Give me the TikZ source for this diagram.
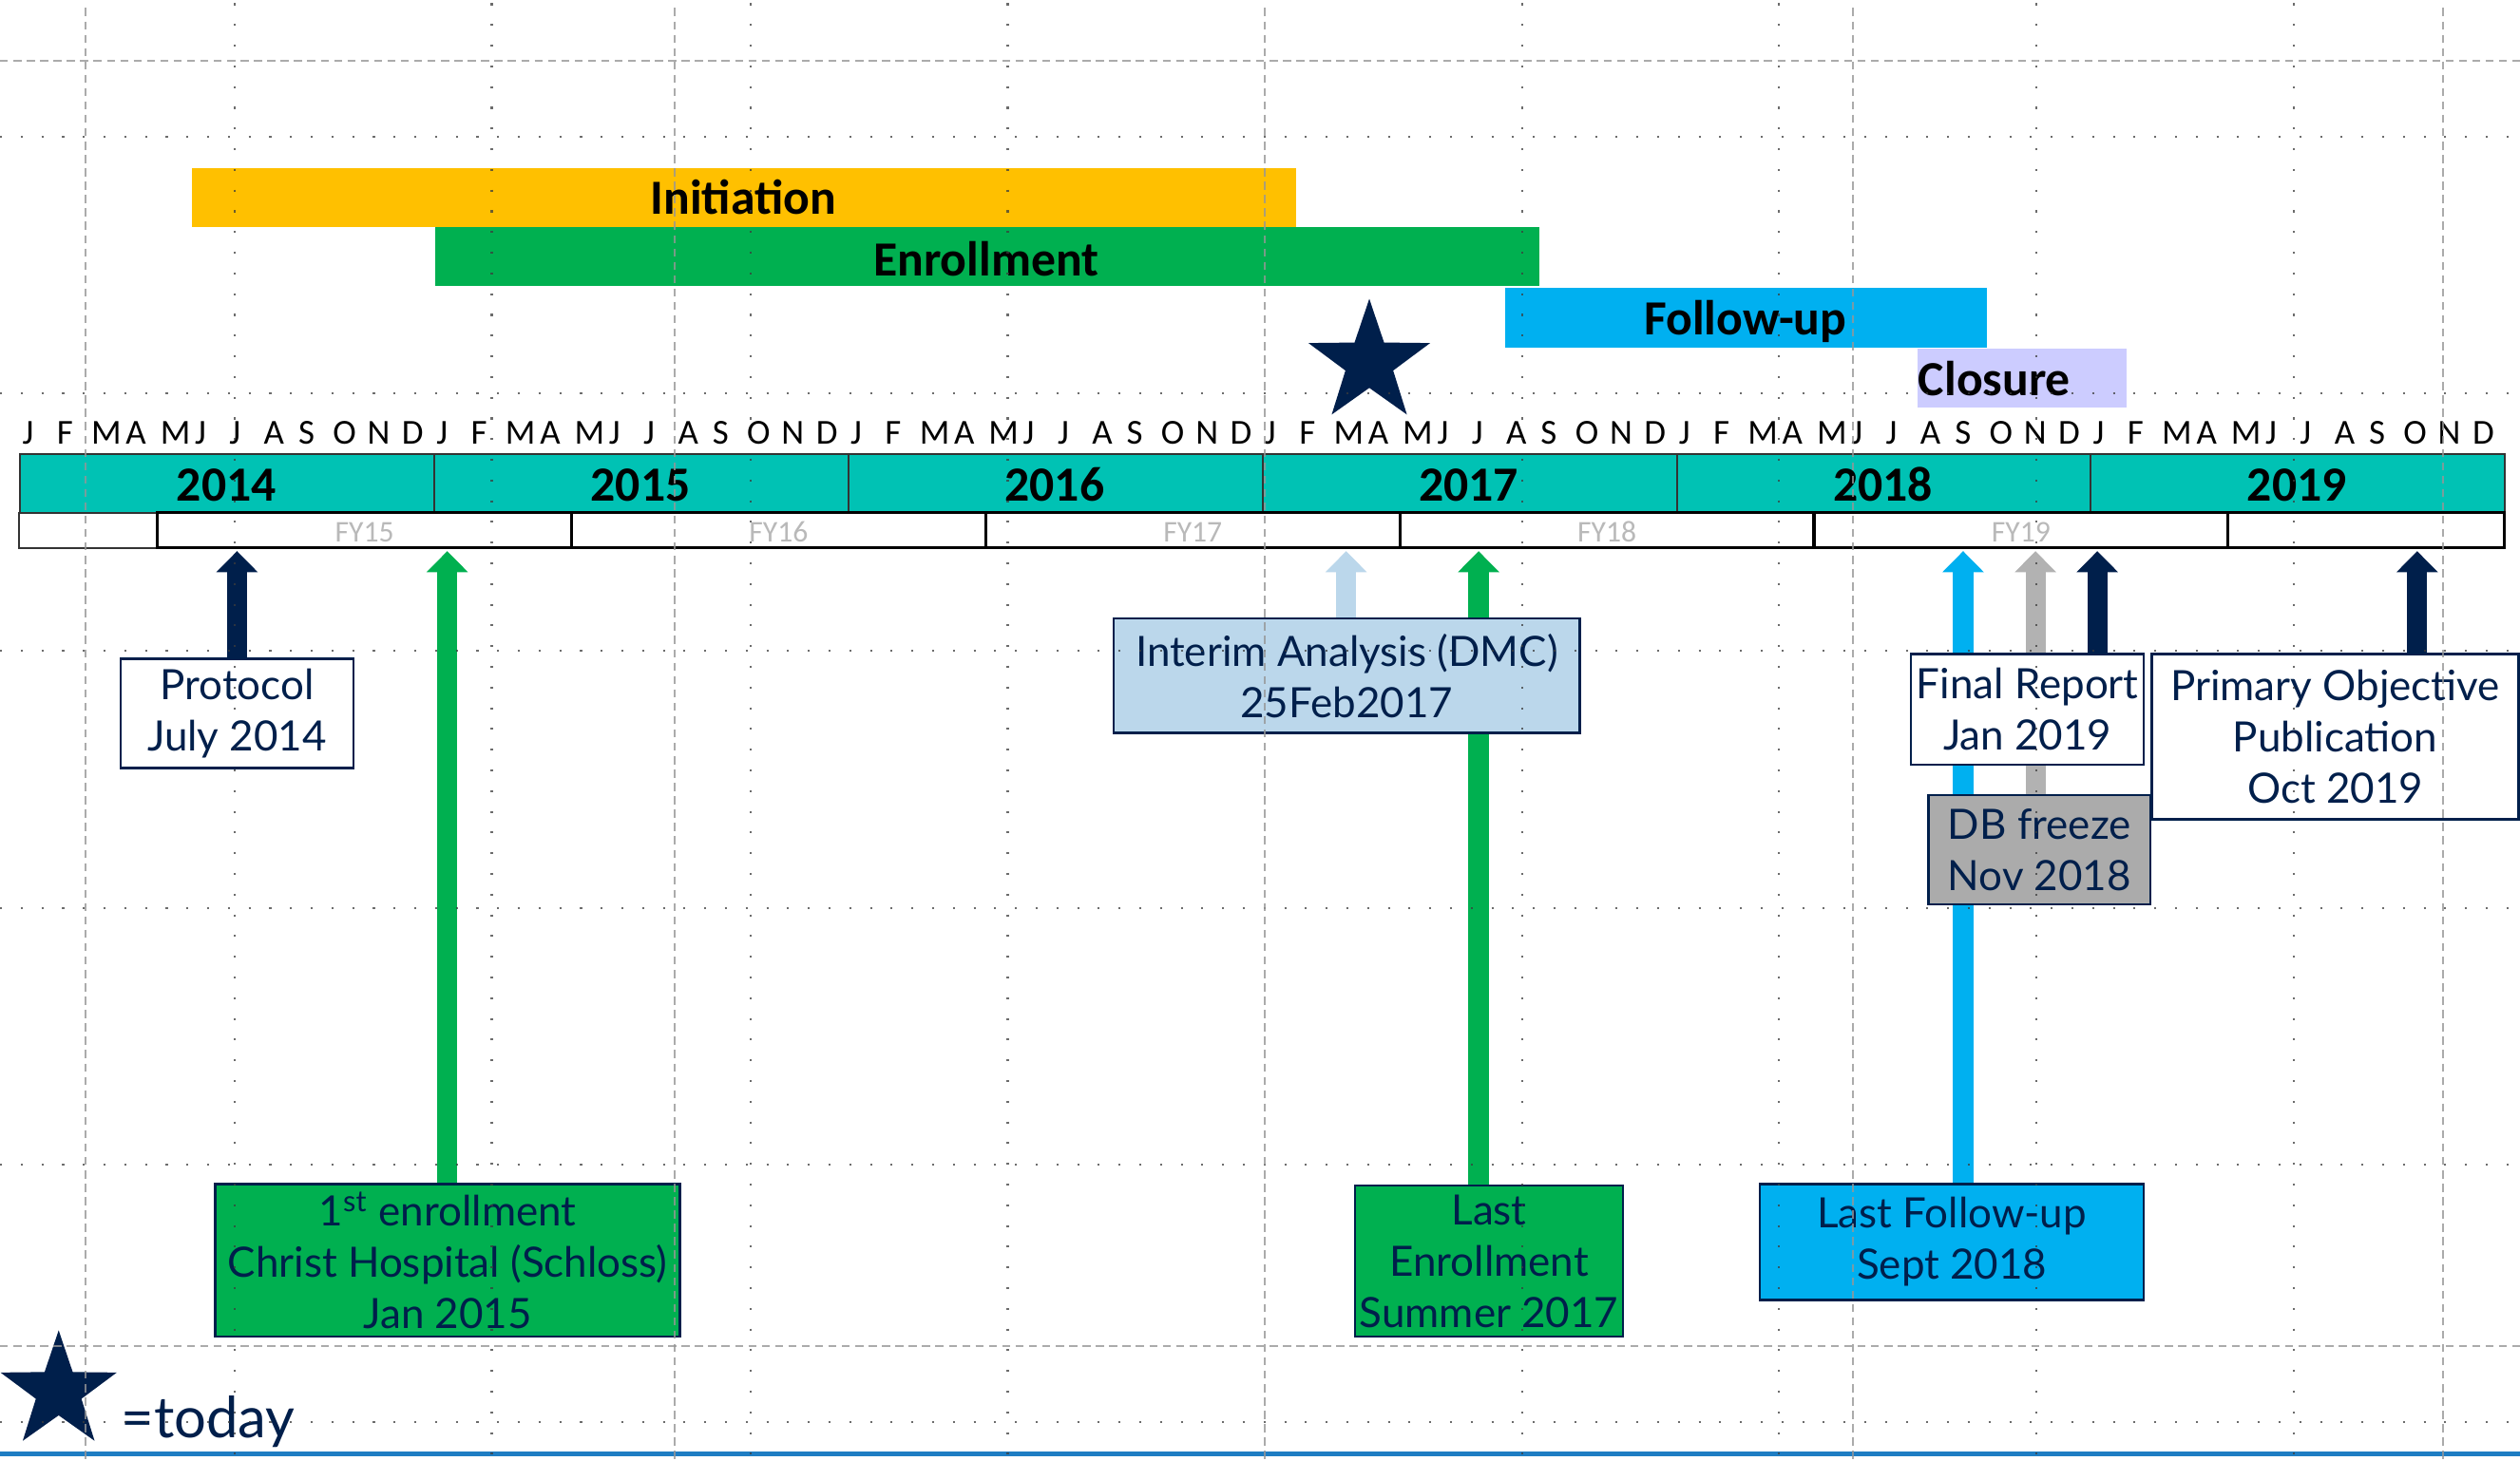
\documentclass[tikz,border=0pt]{standalone}
\usepackage{fontspec}
\setmainfont{Carlito}
\newfontfamily\boxfont{Lato}
\usetikzlibrary{arrows.meta,shapes.geometric}
\pgfdeclarelayer{bg}
\pgfdeclarelayer{fg}
\pgfsetlayers{bg,main,fg}
\definecolor{cNavy}{RGB}{0,31,75}
\definecolor{cTeal}{RGB}{0,194,180}
\definecolor{cOrange}{RGB}{255,192,0}
\definecolor{cGreen}{RGB}{0,176,80}
\definecolor{cCyan}{RGB}{0,176,240}
\definecolor{cLav}{RGB}{204,204,255}
\definecolor{cLight}{RGB}{187,215,235}
\definecolor{cGrayBox}{RGB}{171,171,171}
\definecolor{cGrayArr}{RGB}{178,178,178}
\definecolor{cFY}{RGB}{185,185,185}
\definecolor{cGrid}{RGB}{150,150,150}
\definecolor{cDot}{RGB}{60,60,60}
\definecolor{cBlue}{RGB}{30,125,195}
\newdimen\uu \uu=0.016913cm
\begin{document}
\begin{tikzpicture}[x=0.016913cm,y=-0.016913cm,
  box/.style={draw=cNavy, line width=0.7pt, inner sep=0pt, align=center, text=cNavy,
    font=\boxfont\fontsize{12.5}{15.4}\selectfont},
  arr/.style={line width=6pt, -{Triangle[width=12pt,length=6.3pt]}},
  bar/.style={inner sep=0pt, anchor=north west, minimum height=36.8*\uu},
  barlabel/.style={anchor=base, inner sep=0pt, font=\bfseries\fontsize{14.7}{16}\selectfont},
  yearcell/.style={fill=cTeal, draw=black!80, line width=0.6pt, inner sep=0pt, anchor=north west,
    minimum width=257.67*\uu, minimum height=37*\uu},
  yearlabel/.style={anchor=base, inner sep=0pt, font=\bfseries\fontsize{14.7}{16}\selectfont},
  month/.style={anchor=base west, inner sep=0pt, font=\fontsize{10.5}{12}\selectfont},
  fylabel/.style={anchor=base, inner sep=0pt, text=cFY, font=\fontsize{9}{10}\selectfont},
  fyline/.style={draw=black, line width=0.9pt},
  dotgrid/.style={cDot, line width=0.6pt, dash pattern=on 0.6pt off 5.6pt, opacity=0.75},
  dashgrid/.style={cGrid, line width=0.6pt, dash pattern=on 2.4pt off 1.6pt, opacity=0.8},
  starshape/.style={star, star points=5, star point ratio=2.55, fill=cNavy, inner sep=0pt}
]
\useasboundingbox (0,0) rectangle (1568,909);
\begin{pgfonlayer}{bg}
  \fill[white] (0,0) rectangle (1568,909);
\end{pgfonlayer}

% phase bars
\node[bar, fill=cOrange, minimum width=687*\uu] (init) at (119,104) {};
\node[barlabel] (initL) at (462.5,133.5) {Initiation};
\node[bar, fill=cGreen, minimum width=687*\uu] (enr) at (270.5,141) {};
\node[barlabel] (enrL) at (613.5,171.5) {Enrollment};
\node[bar, fill=cCyan, minimum width=300*\uu] (fu) at (936,179) {};
\node[barlabel] (fuL) at (1086,208.5) {Follow-up};
\node[bar, fill=cLav, minimum width=129.5*\uu] (clo) at (1193,216.5) {};
\node[barlabel] (cloL) at (1241,246.5) {Closure};

% today star
\node[starshape, minimum size=79.6*\uu] (today) at (852,225.8) {};

% months
\foreach \yr in {0,...,5}{
  \foreach \m [count=\i from 0] in {J,F,M,A,M,J,J,A,S,O,N,D}{
    \node[month] (m\yr-\i) at ({12+257.67*\yr+21.47*\i+1.5},276.5) {\m};
  }
}

% year bar
\foreach \yr [count=\i from 0] in {2014,2015,2016,2017,2018,2019}{
  \node[yearcell] (y\yr) at ({12+257.67*\i},282) {};
  \node[yearlabel] (yl\yr) at ({12+257.67*(\i+0.5)},312) {\yr};
}

% fiscal year row
\fill[white] (12,319) rectangle (1558,341);
\draw[black!80, line width=0.6pt] (12,319) rectangle (1558,341);
\foreach \k [count=\i from 0] in {15,16,17,18,19}{
  \draw[fyline] ({98+257.67*\i},319) rectangle ({98+257.67*(\i+1)},341);
  \node[fylabel] (fy\k) at ({98+257.67*(\i+0.5)},337.5) {FY\k};
}
\draw[fyline] (1386.4,319) rectangle (1558,341);

% milestone boxes
\node[box, fill=white, minimum width=145*\uu, minimum height=68*\uu] (prot) at (147.5,444) {Protocol\\July 2014};
\node[box, fill=cGreen, minimum width=289*\uu, minimum height=95*\uu] (enr1) at (278.5,784.5) {1\textsuperscript{st} enrollment\\Christ Hospital (Schloss)\\Jan 2015};
\node[box, fill=cLight, minimum width=290*\uu, minimum height=71*\uu] (interim) at (838,420.5) {Interim Analysis (DMC)\\25Feb2017};
\node[box, fill=cGreen, minimum width=167*\uu, minimum height=94*\uu] (lastenr) at (926.5,785) {Last\\Enrollment\\Summer 2017};
\node[box, fill=cCyan, minimum width=239*\uu, minimum height=72*\uu] (lastfu) at (1214.5,773) {Last Follow-up\\Sept 2018};
\node[box, fill=cGrayBox, minimum width=138*\uu, minimum height=68*\uu] (dbf) at (1269,529) {DB freeze\\Nov 2018};
\node[box, fill=white, minimum width=145*\uu, minimum height=69*\uu] (final) at (1261.5,441.5) {Final Report\\Jan 2019};
\node[box, fill=white, minimum width=228*\uu, minimum height=103*\uu] (prim) at (1453,458.5) {Primary Objective\\Publication\\Oct 2019};

% arrow tips
\coordinate (tProt) at (147.5,343);
\coordinate (tEnr1) at (278.3,343);
\coordinate (tInt) at (837.6,343);
\coordinate (tLEnr) at (920,343);
\coordinate (tLFu) at (1221.5,343);
\coordinate (tDbf) at (1266.5,343);
\coordinate (tFin) at (1305,343);
\coordinate (tPrim) at (1504,343);

\begin{pgfonlayer}{bg}
  \draw[arr, cNavy] (tProt |- prot.north) -- (tProt);
  \draw[arr, cGreen] (tEnr1 |- enr1.north) -- (tEnr1);
  \draw[arr, cLight] (tInt |- interim.north) -- (tInt);
  \draw[arr, cGreen] (tLEnr |- lastenr.north) -- (tLEnr);
  \draw[arr, cCyan] (tLFu |- lastfu.north) -- (tLFu);
  \draw[arr, cGrayArr] (tDbf |- dbf.north) -- (tDbf);
  \draw[arr, cNavy] (tFin |- final.north) -- (tFin);
  \draw[arr, cNavy] (tPrim |- prim.north) -- (tPrim);
\end{pgfonlayer}

% legend
\node[starshape, minimum size=76*\uu] (legstar) at (36.5,866) {};
\node[anchor=base west, inner sep=0pt, text=cNavy, font=\boxfont\fontsize{17}{20}\selectfont] (legtxt) at (75,895) {=today};

% bottom line
\draw[cBlue, line width=1.3pt] (0,905) -- (1568,905);

% grid overlay
\begin{pgfonlayer}{fg}
  \foreach \yy in {85,245,405,565,725,885}
    \draw[dotgrid] (0,\yy) -- (1568,\yy);
  \foreach \yy in {38,838}
    \draw[dashgrid] (0,\yy) -- (1568,\yy);
  \foreach \xx in {146,306,467,627,947,1107,1267,1427}
    \draw[dotgrid] (\xx,2) -- (\xx,909);
  \foreach \xx in {53,420,787,1153,1520}
    \draw[dashgrid] (\xx,5) -- (\xx,909);
\end{pgfonlayer}
\end{tikzpicture}
\end{document}
